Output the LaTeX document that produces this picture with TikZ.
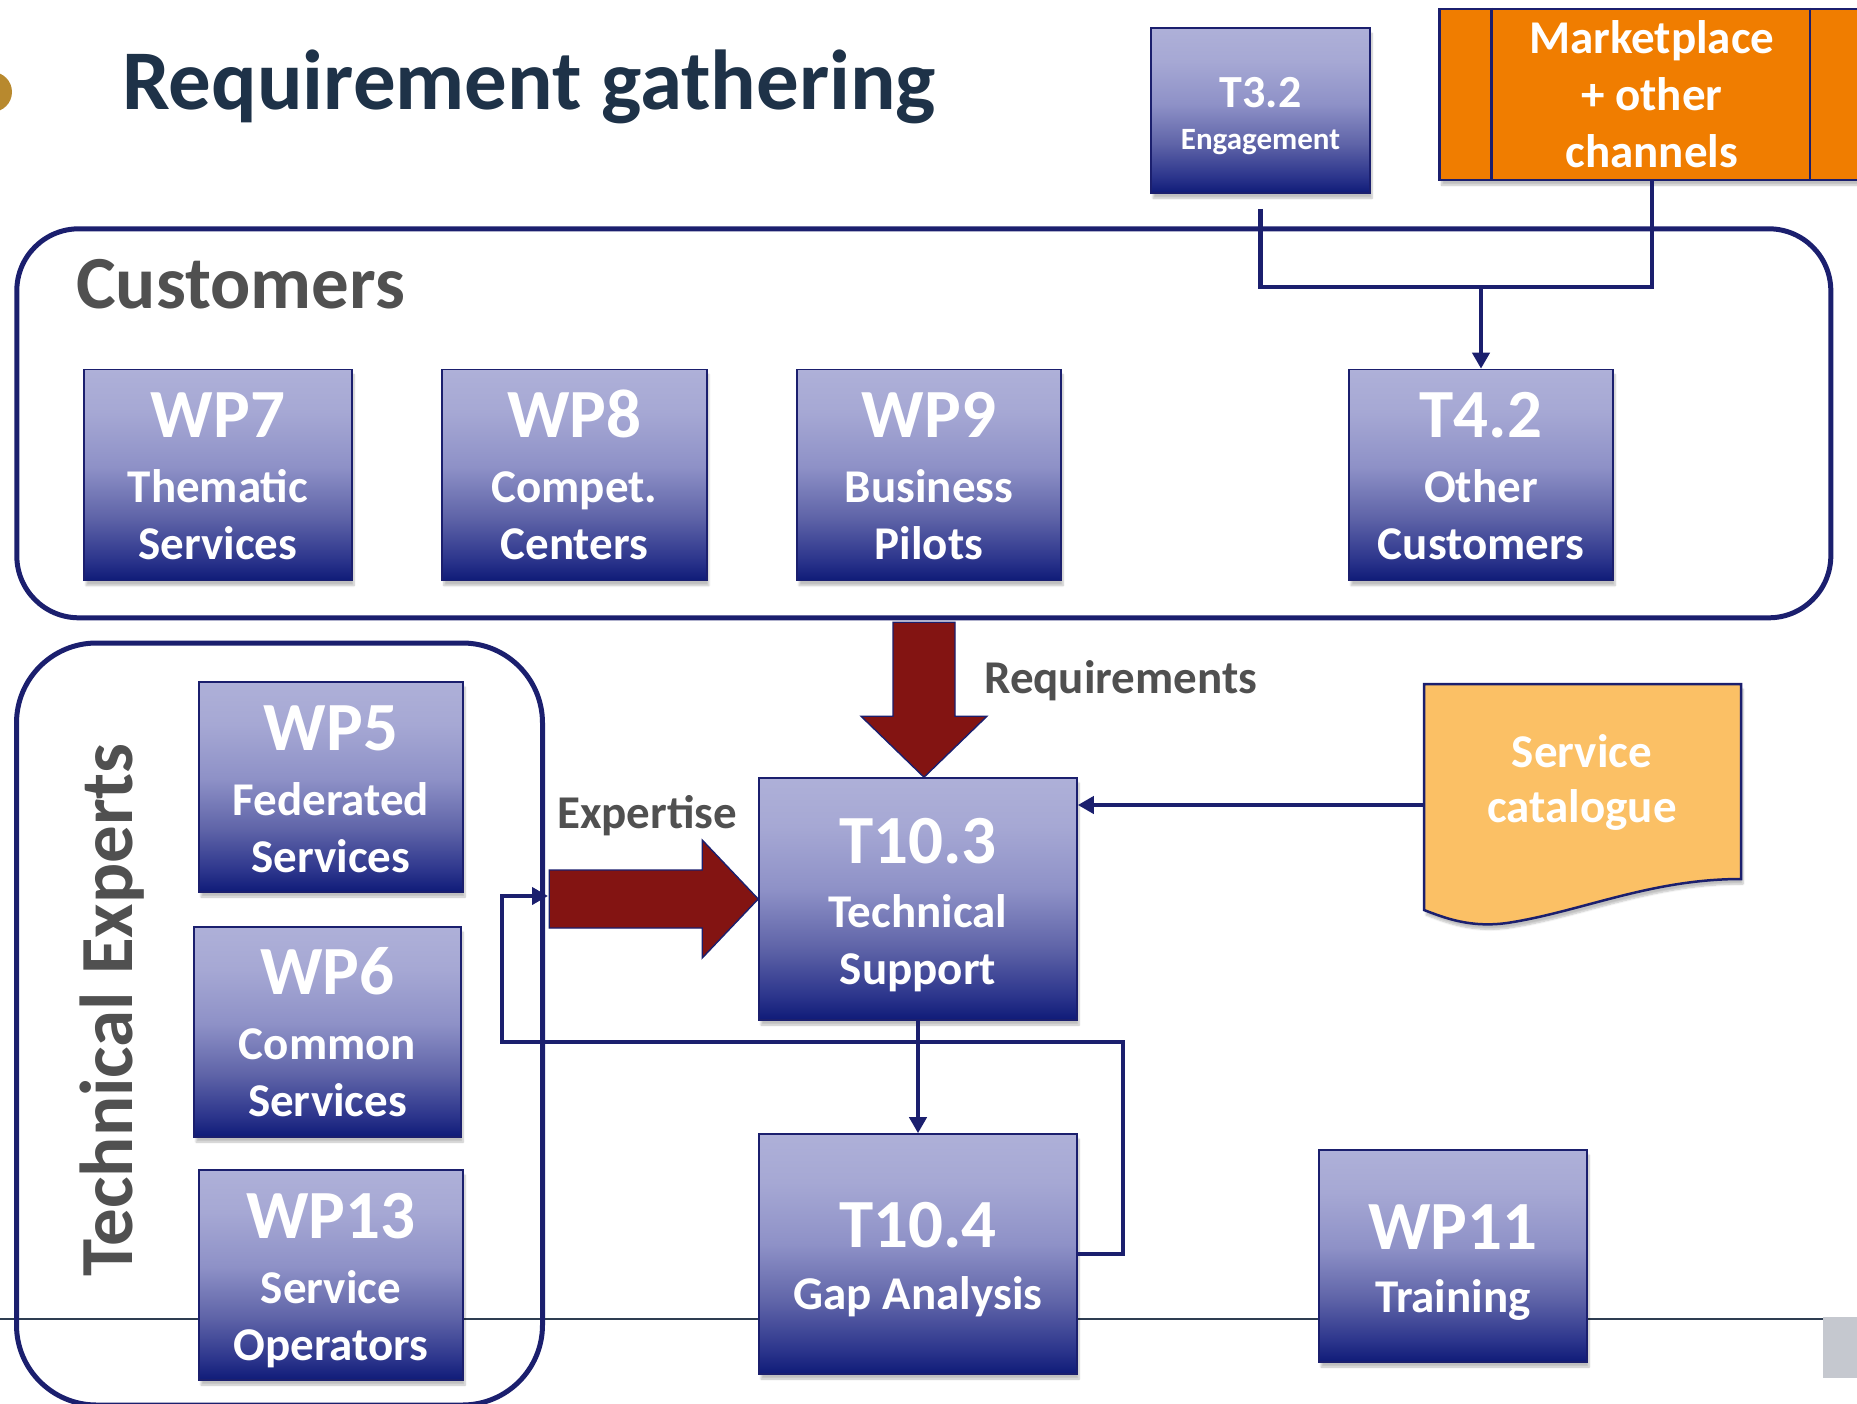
\documentclass[tikz,border=0pt]{standalone}
\usepackage{fontspec}
\setmainfont{Carlito}
\usetikzlibrary{arrows.meta,calc,shadows.blur}

\definecolor{navy}{HTML}{1B1F6E}
\definecolor{titleblue}{HTML}{1E3248}
\definecolor{labelgray}{HTML}{505050}
\definecolor{flowred}{HTML}{831412}
\definecolor{mktorange}{HTML}{F07D00}
\definecolor{catyellow}{HTML}{FBC065}
\definecolor{rulegray}{HTML}{2E3D52}
\definecolor{tabgray}{HTML}{C5C8CF}
\definecolor{bulletgold}{HTML}{B8892E}
\definecolor{shtop}{HTML}{AEB0D8}
\definecolor{shup}{HTML}{A6A8D4}
\definecolor{shmid}{HTML}{8E91C7}
\definecolor{shlow}{HTML}{5F64A8}
\definecolor{shdeep}{HTML}{2C358C}
\definecolor{shbot}{HTML}{0F1B78}

% lavender-to-navy fill of the work package boxes
\pgfdeclareverticalshading{wpshade}{100bp}{color(0bp)=(shbot); color(25bp)=(shbot); color(30bp)=(shdeep); color(40bp)=(shlow); color(52bp)=(shmid); color(65bp)=(shup); color(75bp)=(shtop); color(100bp)=(shtop)}

\newcommand\fsz[2]{\fontsize{#1}{#2}\selectfont}
% large first line of a box; the strut sets how far the text block sits down
\newcommand\headline[2]{\rule{0pt}{#1}{\fsz{69}{69}#2}}

\tikzset{
  softshadow/.style={blur shadow={shadow xshift=2pt, shadow yshift=-5pt, shadow blur steps=6, shadow opacity=25}},
  wpbox/.style={draw=navy, line width=1.6pt, shading=wpshade, softshadow,
    minimum width=266pt, minimum height=211pt, inner sep=0pt, align=center,
    text=white, font=\bfseries\fsz{47}{57}},
  container/.style={draw=navy, line width=5pt, rectangle},
  conn/.style={draw=navy, line width=4.5pt},
  tip/.style={-{Triangle[length=16pt,width=17pt]}},
  blockarrow/.style={fill=flowred, draw=navy, line width=1.4pt, line join=miter},
  grouplabel/.style={text=labelgray, font=\bfseries\fsz{75}{80}, inner sep=0pt},
  flowlabel/.style={text=labelgray, font=\bfseries\fsz{47}{57}, inner sep=0pt},
}

\begin{document}
\begin{tikzpicture}[x=1pt,y=-1pt]
\useasboundingbox (0,0) rectangle (1857,1404);

% heading with its bullet
\fill[bulletgold] (-8,92) circle (20pt);
\node[anchor=base west, inner sep=0pt, text=titleblue, font=\bfseries\fsz{85}{90}] (title) at (122,110) {Requirement gathering};

% slide rule and tab at the bottom
\draw[rulegray, line width=2.6pt] (0,1319) -- (1857,1319);
\fill[tabgray] (1823,1317) rectangle (1857,1378);

% group frames
\node[container, rounded corners=62pt, minimum width=1814pt, minimum height=389pt] (cust) at (923.8,423.3) {};
\node[grouplabel, anchor=base west] (custlabel) at (76,309) {Customers};
\node[container, rounded corners=80pt, minimum width=526pt, minimum height=762pt] (tech) at (279.5,1024) {};
\node[grouplabel, rotate=90, anchor=base] (techlabel) at (132,1010) {Technical Experts};

% top inputs
\node[wpbox, minimum width=219pt, minimum height=165pt, font=\bfseries\fsz{31}{42}] (t32) at (1260.5,110.7) {\rule{0pt}{41pt}{\fsz{46}{46}T3.2}\\Engagement};
\node[draw=navy, line width=2.5pt, fill=mktorange, softshadow, minimum width=424.5pt, minimum height=171pt, inner sep=0pt, align=center, text=white, font=\bfseries\fsz{47}{57}] (mkt) at (1651.75,94.6) {Marketplace\\+ other\\channels};
\draw[navy, line width=2.5pt] ($(mkt.north west)+(53,0)$) -- ($(mkt.south west)+(53,0)$);
\draw[navy, line width=2.5pt] ($(mkt.north west)+(371.5,0)$) -- ($(mkt.south west)+(371.5,0)$);

% customers
\node[wpbox, minimum width=268pt] (wp7) at (218,475) {\headline{48pt}{WP7}\\[8pt]Thematic\\Services};
\node[wpbox, minimum width=265pt] (wp8) at (574.4,475) {\headline{48pt}{WP8}\\[8pt]Compet.\\Centers};
\node[wpbox, minimum width=264pt] (wp9) at (929,475) {\headline{48pt}{WP9}\\[8pt]Business\\Pilots};
\node[wpbox, minimum width=264pt] (t42) at (1481,475) {\headline{48pt}{T4.2}\\[8pt]Other\\Customers};

% technical experts
\node[wpbox, minimum width=264pt, minimum height=210pt] (wp5) at (331,787) {\headline{49pt}{WP5}\\[8pt]Federated\\Services};
\node[wpbox, minimum width=267pt, minimum height=210pt] (wp6) at (327.5,1032) {\headline{44pt}{WP6}\\[8pt]Common\\Services};
\node[wpbox, minimum width=264pt, minimum height=210pt] (wp13) at (331,1275) {\headline{57pt}{WP13}\\[8pt]Service\\Operators};

% support tasks
\node[wpbox, minimum width=318pt, minimum height=242pt] (t103) at (918,899) {\headline{57pt}{T10.3}\\[7pt]Technical\\Support};
\node[wpbox, minimum width=318pt, minimum height=240pt] (t104) at (918,1254) {\headline{57pt}{T10.4}\\[5pt]Gap Analysis};
\node[wpbox, minimum width=268pt, minimum height=212pt] (wp11) at (1453,1256) {\headline{57pt}{WP11}\\[6pt]Training};

% service catalogue document
\draw[draw=navy, line width=2.5pt, fill=catyellow, softshadow]
  (1424,684) -- (1741,684) -- (1741,879)
  .. controls (1650,879) and (1580,912) .. (1507,923)
  .. controls (1470,928) and (1445,918) .. (1424,910) -- cycle;
\node[inner sep=0pt, align=center, text=white, font=\bfseries\fsz{47}{55}] (cat) at (1582,782) {Service\\catalogue};
\coordinate (catin) at (1424,805);

% inputs merging into T4.2
\coordinate (join) at (1481,287);
\draw[conn] ($(t32.south)+(0,15)$) |- (join) -| (mkt.south);
\draw[conn, tip] (join) -- (t42.north);

% catalogue feeds technical support
\draw[conn, tip] (catin) -- (catin -| t103.east);

% technical support to gap analysis, and the feedback loop
\coordinate (loopright) at (1123,1042);
\coordinate (loopleft) at (502,1042);
\coordinate (expin) at (548,896);
\draw[conn, tip] (t103.south) -- (t104.north);
\draw[conn, tip] (t104.east) -| (loopright) -- (loopleft) |- (expin);

% requirements arrow
\coordinate (reqtip) at ($(t103.north)+(6,0)$);
\draw[blockarrow] (reqtip) -- ++(-63,-61) -- ++(32,0) -- ++(0,-94) -- ++(62,0) -- ++(0,94) -- ++(32,0) -- cycle;
\node[flowlabel, anchor=base west] (reqlabel) at (984,693) {Requirements};

% expertise arrow
\draw[blockarrow] (t103.west) -- ++(-56,-59) -- ++(0,30) -- ++(-153,0) -- ++(0,58) -- ++(153,0) -- ++(0,30) -- cycle;
\node[flowlabel, anchor=base west] (explabel) at (557,828) {Expertise};

\end{tikzpicture}
\end{document}
